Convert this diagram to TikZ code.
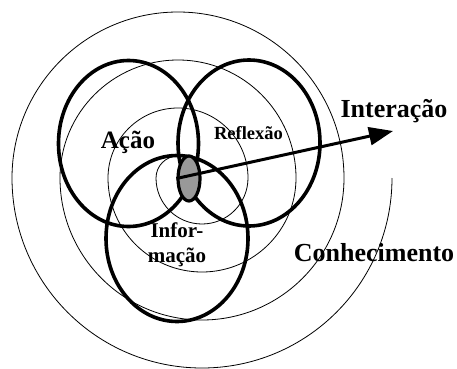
\documentclass[tikz,border=0pt]{standalone}
\usepackage{fontspec}
\setmainfont{Liberation Serif}
\usetikzlibrary{arrows.meta,shapes.geometric}

\begin{document}
\begin{tikzpicture}[
    x=1pt, y=1pt,
    spiral/.style={draw, line width=0.8pt},
    ring/.style={draw, line width=3.6pt},
    core/.style={draw, ellipse, line width=3.2pt, fill=black!40, minimum width=22pt, minimum height=45pt, inner sep=0pt},
    biglabel/.style={anchor=base, font=\fontsize{26}{30}\selectfont\bfseries},
    midlabel/.style={anchor=base, font=\fontsize{21}{25}\selectfont\bfseries},
    smalllabel/.style={anchor=base, font=\fontsize{18.5}{22}\selectfont\bfseries},
    >={Triangle[length=24pt,width=18pt]}
]
\useasboundingbox (0,0) rectangle (457,368);

% spiral of knowledge
\draw[spiral] (392,190)
    arc[start angle=0, end angle=-180, radius=190]
    arc[start angle=180, end angle=0, radius=166]
    arc[start angle=0, end angle=-180, radius=142]
    arc[start angle=180, end angle=0, radius=118]
    arc[start angle=0, end angle=-180, radius=94]
    arc[start angle=180, end angle=0, radius=70]
    arc[start angle=0, end angle=-180, radius=46]
    arc[start angle=180, end angle=0, radius=22];

% three rings
\draw[ring] (128.5,224.5) ellipse[x radius=70, y radius=83];
\draw[ring] (249,225) ellipse[x radius=71, y radius=83];
\draw[ring] (177,129.5) ellipse[x radius=71, y radius=83];

\node[core] (core) at (189,189.5) {};
\coordinate (tipI) at (393,237);
\draw[->, line width=3pt] (core.west) -- (tipI);

\node[biglabel, font=\fontsize{25}{30}\selectfont\bfseries] (acao) at (128,220) {Ação};
\node[smalllabel] (reflexao) at (248.5,229) {Reflexão};
\node[midlabel] (infoA) at (177,131) {Infor-};
\node[midlabel] (infoB) at (177,106) {mação};
\node[biglabel] (interacao) at (394,251) {Interação};
\node[biglabel] (conhec) at (374,107) {Conhecimento};
\end{tikzpicture}
\end{document}
